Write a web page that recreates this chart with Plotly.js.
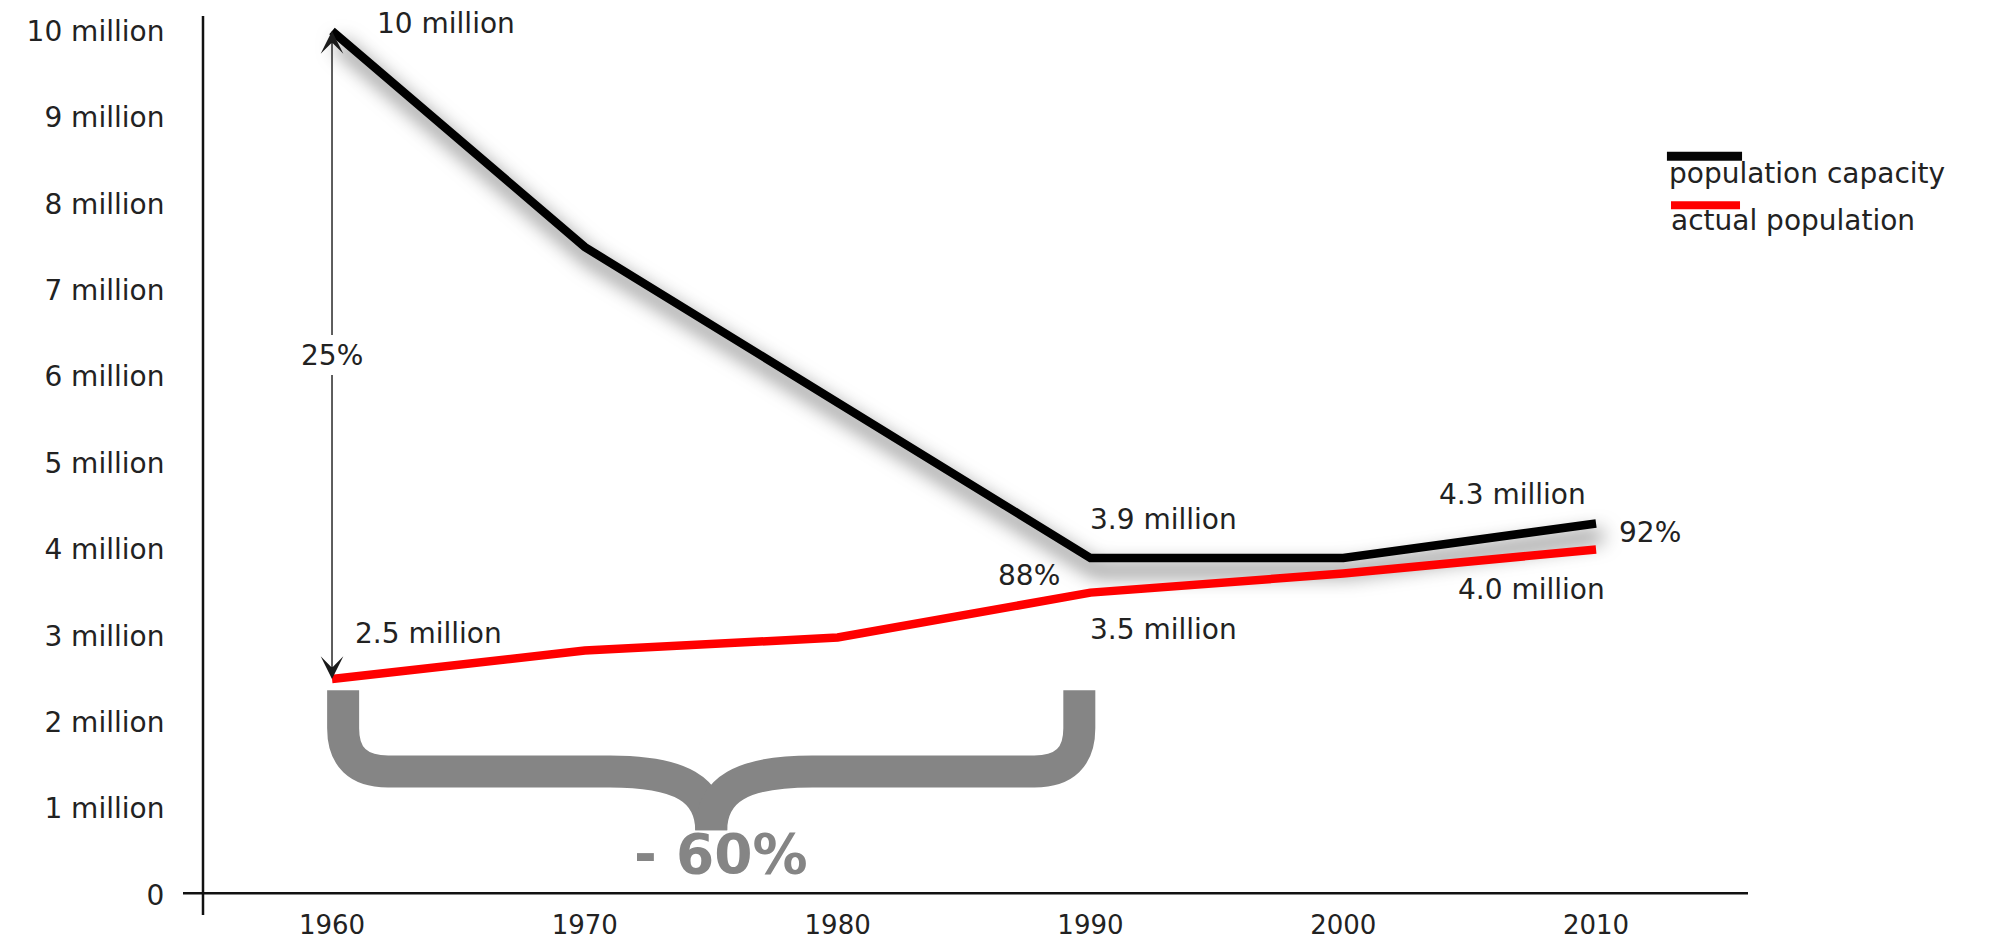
<!DOCTYPE html>
<html>
<head>
<meta charset="utf-8">
<script src="https://cdn.plot.ly/plotly-3.0.1.min.js"></script>
<style>
  html, body { margin: 0; padding: 0; background: #ffffff; }
  #chart { width: 1990px; height: 944px; }
</style>
</head>
<body>
<div id="chart"></div>
<script>
// ---- data ----
const years = [1960, 1970, 1980, 1990, 2000, 2010];
const capacity = [10, 7.5, 5.7, 3.9, 3.9, 4.3];      // millions
const actual = [2.5, 2.83, 2.98, 3.5, 3.72, 4.0];    // millions
const seriesNames = ['population capacity', 'actual population'];
const capacityLabelText = ['10 million', '', '', '3.9 million', '', '4.3 million'];
const actualLabelText = ['2.5 million', '', '', '3.5 million', '', '4.0 million'];
const shareText = ['25%', '', '', '88%', '', '92%'];
const xTickVals = [1960, 1970, 1980, 1990, 2000, 2010];
const xTickText = ['1960', '1970', '1980', '1990', '2000', '2010'];
const yTickVals = [0, 1, 2, 3, 4, 5, 6, 7, 8, 9, 10];
const yTickText = ['0', '1 million', '2 million', '3 million', '4 million', '5 million',
                   '6 million', '7 million', '8 million', '9 million', '10 million'];
const bracePeriod = [1960, 1990];
const braceText = '- 60%';

// ---- styles ----
const FONT = 'DejaVu Sans, Verdana, sans-serif';
const TXT = '#222222';
const BLACK = '#050505';
const RED = '#ff0000';
const GRAY = '#858585';
const XR = [1954.106, 2016.01];
const YR = [-0.139, 10.174];
const Y_AXIS_PAPER_X = (203 - 183) / 1565;

const traces = [
  { x: years, y: capacity, name: seriesNames[0], type: 'scatter', mode: 'lines',
    line: { color: BLACK, width: 8.5 }, hoverinfo: 'skip' },
  { x: years, y: actual, name: seriesNames[1], type: 'scatter', mode: 'lines',
    line: { color: RED, width: 8.5 }, hoverinfo: 'skip' }
];

// label offsets (pixels) keyed by series / index
const capOff = { 0: ['left', 43, 8], 3: ['left', -2, 39], 5: ['right', -8, 29] };
const actOff = { 0: ['left', 21, 46], 3: ['left', -2, -37], 5: ['right', 11, -40] };
const shareOff = { 3: ['right', -28, 17, 'act'], 5: ['left', 21, -9, 'cap'] };

const annotations = [];
function lab(text, x, y, o) {
  annotations.push({ x: x, y: y, xref: 'x', yref: 'y', text: text, showarrow: false,
    xanchor: o[0], yanchor: 'middle', xshift: o[1], yshift: o[2],
    font: { family: FONT, size: 28, color: TXT } });
}
years.forEach((yr, i) => {
  if (capacityLabelText[i]) lab(capacityLabelText[i], yr, capacity[i], capOff[i]);
  if (actualLabelText[i]) lab(actualLabelText[i], yr, actual[i], actOff[i]);
  if (shareText[i] && shareOff[i]) {
    const o = shareOff[i];
    lab(shareText[i], yr, o[3] === 'cap' ? capacity[i] : actual[i], o);
  }
});

// double-headed arrow at 1960 with "25%" label
const midY = (capacity[0] + actual[0]) / 2;
[[capacity[0], TXT], [actual[0], 'rgba(0,0,0,0)']].forEach(([tipY, col]) => {
  annotations.push({ x: years[0], y: tipY, xref: 'x', yref: 'y',
    ax: years[0], ay: midY, axref: 'x', ayref: 'y',
    text: shareText[0], showarrow: true, arrowhead: 3, arrowsize: 2.7, arrowwidth: 1.4,
    arrowcolor: '#1a1a1a', borderpad: 3,
    font: { family: FONT, size: 28, color: col } });
});

// brace text
annotations.push({ x: (bracePeriod[0] + bracePeriod[1]) / 2, y: 0.475, xref: 'x', yref: 'y',
  text: braceText, showarrow: false, xanchor: 'center', yanchor: 'middle', xshift: 10,
  font: { family: FONT, size: 55, color: GRAY, weight: 'bold' } });

// legend texts
annotations.push({ x: 0.948, y: 0.8231, xref: 'paper', yref: 'paper', text: seriesNames[0],
  showarrow: false, xanchor: 'left', yanchor: 'middle', font: { family: FONT, size: 28, color: TXT } });
annotations.push({ x: 0.9495, y: 0.7709, xref: 'paper', yref: 'paper', text: seriesNames[1],
  showarrow: false, xanchor: 'left', yanchor: 'middle', font: { family: FONT, size: 28, color: TXT } });

function bracePath(xa, xb, side) {
  const xm = (xa + xb) / 2;
  const yTop = 2.37, yMid = 1.43, yTip = 0.75, inset = 0.44, rx = 1.78, ry = 0.5;
  const s = side;           // +1 left half, -1 right half
  const e = side > 0 ? xa : xb;
  const p = (x, y) => x.toFixed(3) + ',' + y.toFixed(3);
  return 'M' + p(e + s * inset, yTop) +
    ' L' + p(e + s * inset, yMid + ry) +
    ' Q' + p(e + s * inset, yMid) + ' ' + p(e + s * (inset + rx), yMid) +
    ' L' + p(xm - s * 4, yMid) +
    ' C' + p(xm - s * 1.2, yMid) + ' ' + p(xm, yMid - 0.21) + ' ' + p(xm, yTip);
}

const shapes = [
  // axes (slightly crossing each other like the reference)
  { type: 'line', xref: 'paper', yref: 'paper', x0: Y_AXIS_PAPER_X, x1: Y_AXIS_PAPER_X, y0: -0.009, y1: 1,
    line: { color: '#111111', width: 2.5 } },
  { type: 'line', xref: 'paper', yref: 'y', x0: 0, x1: 1, y0: 0.02, y1: 0.02,
    line: { color: '#111111', width: 2.5 } },
  // brace
  { type: 'path', xref: 'x', yref: 'y', layer: 'below', path: bracePath(bracePeriod[0], bracePeriod[1], 1),
    line: { color: GRAY, width: 32 }, fillcolor: 'rgba(0,0,0,0)' },
  { type: 'path', xref: 'x', yref: 'y', layer: 'below', path: bracePath(bracePeriod[0], bracePeriod[1], -1),
    line: { color: GRAY, width: 32 }, fillcolor: 'rgba(0,0,0,0)' },
  // legend bars
  { type: 'line', xref: 'paper', yref: 'paper', x0: 0.9482, x1: 0.9962, y0: 0.8426, y1: 0.8426,
    line: { color: BLACK, width: 9 } },
  { type: 'line', xref: 'paper', yref: 'paper', x0: 0.9508, x1: 0.9949, y0: 0.7875, y1: 0.7875,
    line: { color: RED, width: 8 } }
];

const layout = {
  width: 1990, height: 944,
  margin: { l: 183, r: 242, t: 16, b: 37, pad: 0 },
  paper_bgcolor: '#ffffff', plot_bgcolor: '#ffffff',
  showlegend: false,
  font: { family: FONT, size: 28, color: TXT },
  xaxis: { range: XR, tickvals: xTickVals, ticktext: xTickText, showgrid: false, zeroline: false,
    showline: false, ticks: '', tickfont: { family: FONT, size: 26, color: TXT }, fixedrange: true },
  yaxis: { range: YR, tickvals: yTickVals, ticktext: yTickText, showgrid: false, zeroline: false,
    showline: false, ticks: 'outside', ticklen: 12, tickcolor: 'rgba(0,0,0,0)',
    tickfont: { family: FONT, size: 28, color: TXT }, fixedrange: true },
  shapes: shapes,
  annotations: annotations
};

Plotly.newPlot('chart', traces, layout, { displayModeBar: false, staticPlot: true }).then(gd => {
  const ns = 'http://www.w3.org/2000/svg';
  const svg = gd.querySelector('svg.main-svg');
  let defs = svg.querySelector('defs');
  if (!defs) { defs = document.createElementNS(ns, 'defs'); svg.insertBefore(defs, svg.firstChild); }
  const f = document.createElementNS(ns, 'filter');
  f.setAttribute('id', 'lineShadow');
  f.setAttribute('x', '-20%'); f.setAttribute('y', '-30%');
  f.setAttribute('width', '150%'); f.setAttribute('height', '180%');
  const ds = document.createElementNS(ns, 'feDropShadow');
  ds.setAttribute('dx', '6'); ds.setAttribute('dy', '12');
  ds.setAttribute('stdDeviation', '10');
  ds.setAttribute('flood-color', '#000000'); ds.setAttribute('flood-opacity', '0.7');
  f.appendChild(ds);
  defs.appendChild(f);
  const tr = gd.querySelectorAll('.scatterlayer .trace');
  if (tr.length) {
    const p = tr[0].querySelector('path.js-line');
    if (p) p.setAttribute('filter', 'url(#lineShadow)');
  }
});
</script>
</body>
</html>
